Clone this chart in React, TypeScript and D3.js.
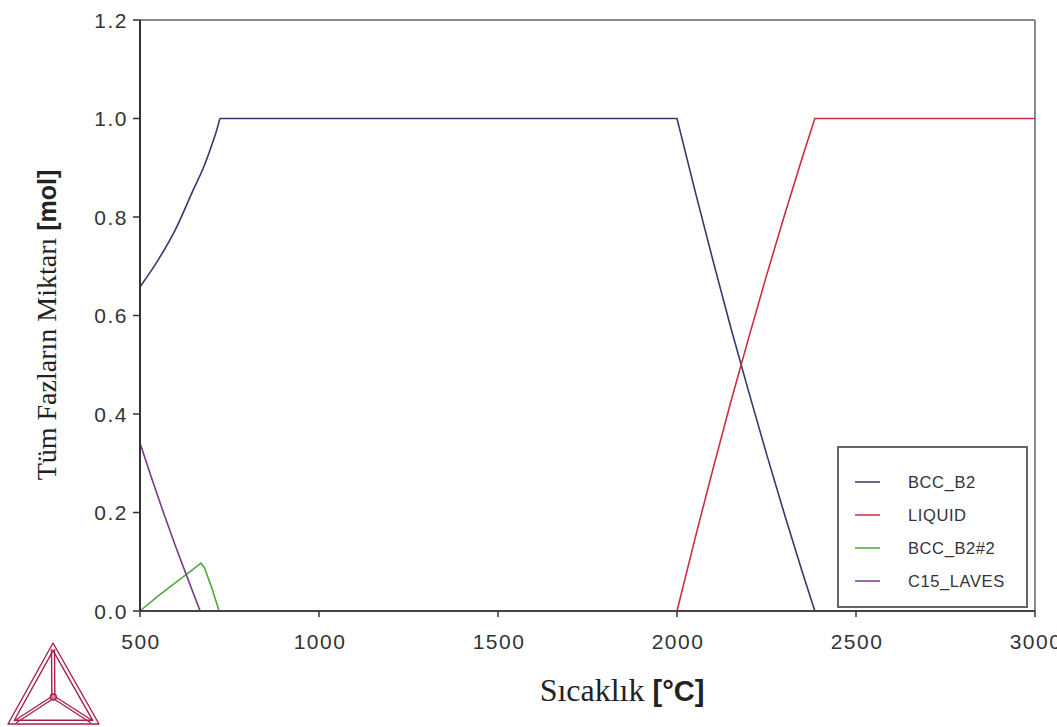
import React from "react";
import * as d3 from "d3";

const xTicks = [500, 1000, 1500, 2000, 2500, 3000];
const yTicks = [0.0, 0.2, 0.4, 0.6, 0.8, 1.0, 1.2];

const bccT = [500, 550, 600, 650, 680, 700, 715, 723, 2000, 2050, 2100, 2150, 2200, 2250, 2300, 2350, 2385];
const bccV = [0.658, 0.712, 0.776, 0.857, 0.905, 0.945, 0.978, 1.0, 1.0, 0.854, 0.713, 0.576, 0.446, 0.319, 0.197, 0.079, 0];

const liquidT = [2000, 2050, 2100, 2150, 2200, 2250, 2300, 2350, 2385, 3000];
const liquidV = [0, 0.146, 0.287, 0.424, 0.554, 0.681, 0.803, 0.921, 1.0, 1.0];

const bcc2T = [500, 550, 600, 640, 670, 680, 700, 721];
const bcc2V = [0, 0.03, 0.058, 0.08, 0.097, 0.088, 0.048, 0];

const lavesT = [500, 530, 564, 600, 640, 668];
const lavesV = [0.341, 0.275, 0.203, 0.13, 0.053, 0];

const seriesNames = ["BCC_B2", "LIQUID", "BCC_B2#2", "C15_LAVES"];
const seriesColors = ["#343a6c", "#c8303f", "#52a83c", "#7a3a8c"];

const W = 1057, H = 727;
const L = 140, R = 1035, T = 20, B = 611;

export default function App() {
  const x = d3.scaleLinear().domain([500, 3000]).range([L, R]);
  const y = d3.scaleLinear().domain([0, 1.2]).range([B, T]);
  const line = d3.line<[number, number]>().x(d => x(d[0])).y(d => y(d[1]));
  const smooth = d3.line<[number, number]>().x(d => x(d[0])).y(d => y(d[1])).curve(d3.curveMonotoneX);
  const bcc = d3.zip(bccT, bccV) as [number, number][];
  const kink = bccT.indexOf(723);
  const bccLow = bcc.slice(0, kink + 1);
  const bccHigh = bcc.slice(kink);
  const series = [
    d3.zip(liquidT, liquidV),
    d3.zip(bcc2T, bcc2V),
    d3.zip(lavesT, lavesV),
  ] as [number, number][][];

  const legX = 838, legY = 447, legW = 189, legH = 160;
  const rowY = [482, 515, 548, 581];

  // logo geometry
  const ax = 53, ay = 643, blx = 8, bly = 724, brx = 99, bry = 724;
  const cx = (ax + blx + brx) / 3, cy = (ay + bly + bry) / 3;
  const shrink = (px: number, py: number, k: number) => [cx + (px - cx) * k, cy + (py - cy) * k];
  const inner = [shrink(ax, ay, 0.86), shrink(blx, bly, 0.86), shrink(brx, bry, 0.86)];
  const logoColor = "#a8204f";

  return (
    <svg width={W} height={H} style={{ position: "absolute", left: 0, top: 0, background: "#fff" }}>
      {/* frame */}
      <line x1={L} y1={T} x2={R} y2={T} stroke="#8a8a8a" strokeWidth={2} />
      <line x1={R} y1={T} x2={R} y2={B} stroke="#8a8a8a" strokeWidth={2} />
      {/* series */}
      <path d={smooth(bccLow) || ""} fill="none" stroke={seriesColors[0]} strokeWidth={1.6} />
      <path d={line(bccHigh) || ""} fill="none" stroke={seriesColors[0]} strokeWidth={1.6} />
      {series.map((s, i) => (
        <path key={i} d={line(s) || ""} fill="none" stroke={seriesColors[i + 1]} strokeWidth={1.6} />
      ))}
      <line x1={L} y1={T} x2={L} y2={B} stroke="#333" strokeWidth={2} />
      <line x1={L} y1={B} x2={R} y2={B} stroke="#444" strokeWidth={2} />
      {/* y ticks */}
      {yTicks.map(t => (
        <g key={t}>
          <line x1={L - 7} x2={L} y1={y(t)} y2={y(t)} stroke="#333" strokeWidth={1.5} />
          <text x={128} y={y(t)} dy="0.36em" textAnchor="end" fontFamily="Arial, Liberation Sans" fontSize={21} letterSpacing={1.5} fill="#333">
            {t.toFixed(1)}
          </text>
        </g>
      ))}
      {/* x ticks */}
      {xTicks.map(t => (
        <g key={t}>
          <line x1={x(t)} x2={x(t)} y1={B} y2={B + 6} stroke="#333" strokeWidth={1.5} />
          <text x={x(t) + 1} y={649} textAnchor="middle" fontFamily="Arial, Liberation Sans" fontSize={21} letterSpacing={1.5} fill="#333">
            {t}
          </text>
        </g>
      ))}
      {/* legend */}
      <rect x={legX} y={legY} width={legW} height={legH} fill="#fff" stroke="#666" strokeWidth={2} />
      {seriesNames.map((n, i) => (
        <g key={n}>
          <line x1={855} x2={880} y1={rowY[i]} y2={rowY[i]} stroke={seriesColors[i]} strokeWidth={1.5} />
          <text x={908} y={rowY[i]} dy="0.36em" fontFamily="Arial, Liberation Sans" fontSize={16.5} letterSpacing={0.6} fill="#333">
            {n}
          </text>
        </g>
      ))}
      {/* axis titles */}
      <text x={622} y={701} textAnchor="middle" fill="#222">
        <tspan fontFamily="Liberation Serif, Times New Roman, serif" fontSize={32}>Sıcaklık </tspan>
        <tspan fontFamily="Liberation Sans, Arial, sans-serif" fontWeight="bold" fontSize={29}>[°C]</tspan>
      </text>
      <text transform={`translate(56,325) rotate(-90)`} textAnchor="middle" fill="#222">
        <tspan fontFamily="Liberation Serif, Times New Roman, serif" fontSize={28}>Tüm Fazların Miktarı </tspan>
        <tspan fontFamily="Liberation Sans, Arial, sans-serif" fontWeight="bold" fontSize={25}>[mol]</tspan>
      </text>
      {/* logo */}
      <g fill="none" stroke={logoColor} strokeWidth={1.4} strokeLinejoin="round">
        <polygon points={`${ax},${ay} ${blx},${bly} ${brx},${bry}`} />
        <polygon points={inner.map(p => p.join(",")).join(" ")} />
        <line x1={ax - 1.5} y1={ay + 6} x2={cx - 1.5} y2={cy} />
        <line x1={ax + 1.5} y1={ay + 6} x2={cx + 1.5} y2={cy} />
        <line x1={cx} y1={cy - 1.5} x2={blx + 6} y2={bly - 3} />
        <line x1={cx} y1={cy + 1.5} x2={blx + 8} y2={bly - 1} />
        <line x1={cx} y1={cy - 1.5} x2={brx - 6} y2={bry - 3} />
        <line x1={cx} y1={cy + 1.5} x2={brx - 8} y2={bry - 1} />
        <circle cx={cx} cy={cy} r={3} fill="#d87a9a" />
      </g>
    </svg>
  );
}
